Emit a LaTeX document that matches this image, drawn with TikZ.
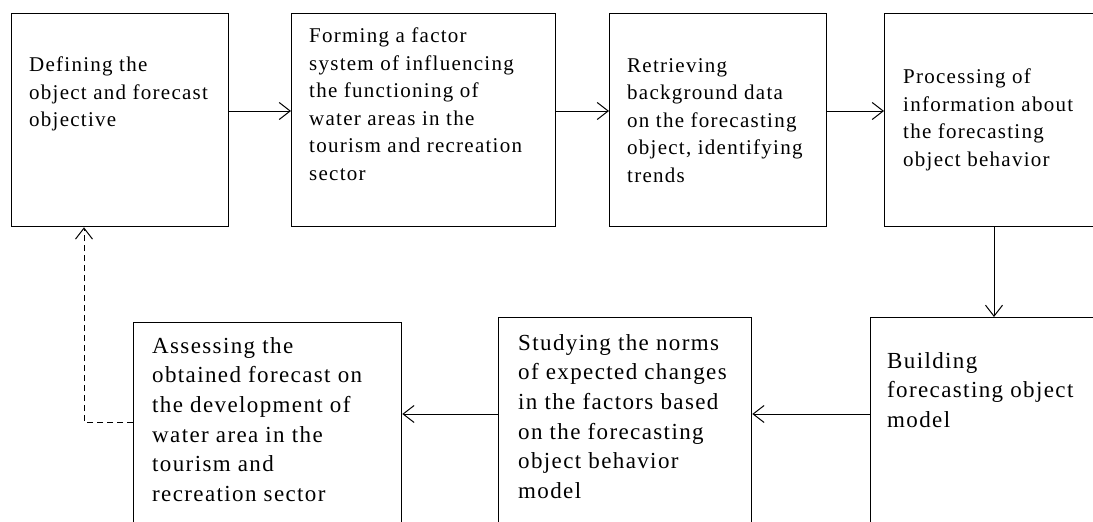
\documentclass[tikz,border=0pt]{standalone}
\usepackage{fontspec}
\setmainfont{Liberation Serif}
\newfontfamily\stepfont{Liberation Serif}[LetterSpace=6]
\usetikzlibrary{arrows.meta}

\begin{document}
\begin{tikzpicture}[x=1pt,y=-1pt,
  stage/.style={draw,line width=1.3pt,anchor=north west,inner sep=0pt},
  upper/.style={anchor=north west,inner sep=0pt,align=left,font=\stepfont\fontsize{21}{27.5}\selectfont},
  lower/.style={anchor=north west,inner sep=0pt,align=left,font=\stepfont\fontsize{23}{29.7}\selectfont},
  flow/.style={line width=1pt,-{Straight Barb[length=11pt,width=17pt,line width=1pt]}}]
\useasboundingbox (0,0) rectangle (1093,522);
\clip (0,0) rectangle (1093,522);
\fill[white] (0,0) rectangle (1093,522);
% top row
\node[stage,minimum width=217pt,minimum height=213pt] (define) at (11,13) {};
\node[stage,minimum width=264pt,minimum height=213pt] (factor) at (291,13) {};
\node[stage,minimum width=217pt,minimum height=213pt] (retrieve) at (609,13) {};
\node[stage,minimum width=240pt,minimum height=213pt] (process) at (884,13) {};
% bottom row, running off the page
\node[stage,minimum width=240pt,minimum height=230pt] (model) at (870,317) {};
\node[stage,minimum width=253pt,minimum height=230pt] (norms) at (498,317) {};
\node[stage,minimum width=268pt,minimum height=230pt] (assess) at (133,322) {};
% texts
\node[upper] (define-t) at (29,57) {Defining the\\object and forecast\\objective};
\node[upper] (factor-t) at (309,28) {Forming a factor\\system of influencing\\the functioning of\\water areas in the\\tourism and recreation\\sector};
\node[upper] (retrieve-t) at (627,58) {Retrieving\\background data\\on the forecasting\\object, identifying\\trends};
\node[upper] (process-t) at (903,69) {Processing of\\information about\\the forecasting\\object behavior};
\node[lower] (model-t) at (887,352) {Building\\forecasting object\\model};
\node[lower] (norms-t) at (518,334) {Studying the norms\\of expected changes\\in the factors based\\on the forecasting\\object behavior\\model};
\node[lower] (assess-t) at (152,337) {Assessing the\\obtained forecast on\\the development of\\water area in the\\tourism and\\recreation sector};
% connectors
\coordinate (rowtop) at (0,111);
\coordinate (rowbot) at (0,414);
\coordinate (down) at (994,0);
\coordinate (back) at (84,422);
\draw[flow] (define.east |- rowtop) -- (factor.west |- rowtop);
\draw[flow] (factor.east |- rowtop) -- (retrieve.west |- rowtop);
\draw[flow] (retrieve.east |- rowtop) -- (process.west |- rowtop);
\draw[flow] (process.south -| down) -- (model.north -| down);
\draw[flow] (model.west |- rowbot) -- (norms.east |- rowbot);
\draw[flow] (norms.west |- rowbot) -- (assess.east |- rowbot);
\draw[flow,dash pattern=on 6pt off 4pt] (assess.west |- back) -| (define.south -| back);
\end{tikzpicture}
\end{document}
